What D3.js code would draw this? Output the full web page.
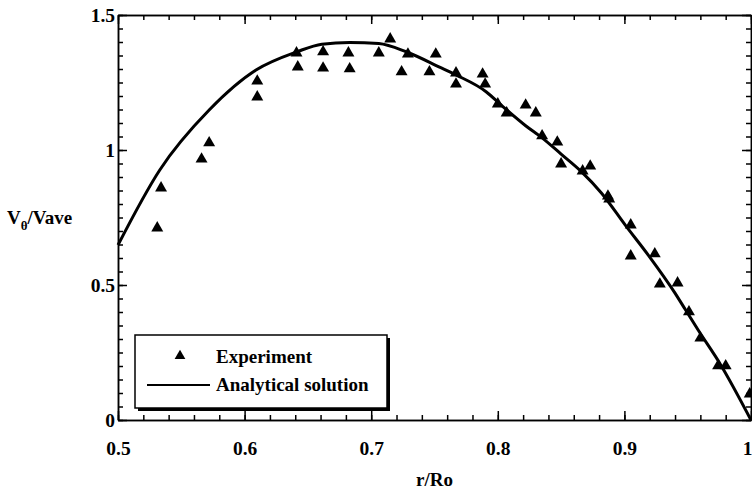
<!DOCTYPE html>
<html>
<head>
<meta charset="utf-8">
<script src="https://cdn.jsdelivr.net/npm/d3@7"></script>
<style>
  body { margin: 0; background: #fff; }
  svg text { font-family: "Liberation Serif", "Times New Roman", serif; font-weight: bold; fill: #000; }
  .axis path, .axis line { stroke: #000; stroke-width: 1.5; }
</style>
</head>
<body>
<script>
// analytical solution
var curveR = [0.5, 0.533, 0.572, 0.609, 0.641, 0.661, 0.683, 0.706, 0.728, 0.754, 0.767, 0.791, 0.803, 0.822, 0.835, 0.850, 0.866, 0.882, 0.901, 0.919, 0.940, 0.948, 0.958, 0.976, 1.0];
var curveV = [0.648, 0.926, 1.148, 1.296, 1.363, 1.392, 1.398, 1.394, 1.363, 1.307, 1.278, 1.215, 1.165, 1.090, 1.045, 0.985, 0.920, 0.840, 0.720, 0.610, 0.470, 0.410, 0.335, 0.205, 0];

// experiment points
var expR = [0.531, 0.534, 0.566, 0.572, 0.610, 0.610, 0.641, 0.642, 0.662, 0.662, 0.682, 0.683, 0.706, 0.715, 0.724, 0.729, 0.746, 0.751, 0.767, 0.767, 0.788, 0.790, 0.800, 0.807, 0.822, 0.830, 0.835, 0.847, 0.850, 0.867, 0.873, 0.887, 0.888, 0.905, 0.905, 0.924, 0.928, 0.942, 0.951, 0.960, 0.974, 0.980, 0.999];
var expV = [0.715, 0.863, 0.970, 1.030, 1.259, 1.200, 1.363, 1.311, 1.367, 1.307, 1.363, 1.304, 1.363, 1.415, 1.293, 1.359, 1.293, 1.359, 1.289, 1.248, 1.285, 1.248, 1.174, 1.141, 1.170, 1.141, 1.056, 1.033, 0.952, 0.926, 0.944, 0.833, 0.822, 0.726, 0.611, 0.619, 0.507, 0.511, 0.404, 0.307, 0.204, 0.204, 0.1];

var xMajor = [0.5, 0.6, 0.7, 0.8, 0.9, 1.0];
var xLabels = ["0.5", "0.6", "0.7", "0.8", "0.9", "1"];
var yMajor = [0, 0.5, 1, 1.5];
var yLabels = ["0", "0.5", "1", "1.5"];
var legendNames = ["Experiment", "Analytical solution"];

var width = 752, height = 490;
var svg = d3.select("body").append("svg").attr("width", width).attr("height", height);

var x = d3.scaleLinear().domain([0.5, 1]).range([118, 751]);
var y = d3.scaleLinear().domain([0, 1.5]).range([420, 15]);

var xMinor = d3.range(0.5, 1.001, 0.02).map(d => +d.toFixed(2));
var yMinor = d3.range(0, 1.501, 0.05).map(d => +d.toFixed(2));

// minor ticks, all four sides
svg.append("g").attr("class", "axis").attr("transform", "translate(0,420)")
  .call(d3.axisBottom(x).tickValues(xMinor).tickSize(-5).tickSizeOuter(0).tickFormat(""));
svg.append("g").attr("class", "axis").attr("transform", "translate(0,15)")
  .call(d3.axisTop(x).tickValues(xMinor).tickSize(-5).tickSizeOuter(0).tickFormat(""));
svg.append("g").attr("class", "axis").attr("transform", "translate(118,0)")
  .call(d3.axisLeft(y).tickValues(yMinor).tickSize(-5).tickSizeOuter(0).tickFormat(""));
svg.append("g").attr("class", "axis").attr("transform", "translate(751,0)")
  .call(d3.axisRight(y).tickValues(yMinor).tickSize(-5).tickSizeOuter(0).tickFormat(""));

// major ticks + labels
var xAxis = svg.append("g").attr("class", "axis").attr("transform", "translate(0,420)")
  .call(d3.axisBottom(x).tickValues(xMajor).tickSize(-9).tickSizeOuter(0).tickPadding(21)
    .tickFormat((d, i) => xLabels[i]));
xAxis.selectAll("text").style("font-size", "19.5px")
  .attr("text-anchor", d => d === 1 ? "end" : "middle")
  .attr("dx", d => d === 1 ? 1 : 0);
svg.append("g").attr("class", "axis").attr("transform", "translate(0,15)")
  .call(d3.axisTop(x).tickValues(xMajor).tickSize(-9).tickSizeOuter(0).tickFormat(""));

var yAxis = svg.append("g").attr("class", "axis").attr("transform", "translate(118,0)")
  .call(d3.axisLeft(y).tickValues(yMajor).tickSize(-9).tickSizeOuter(0).tickPadding(3)
    .tickFormat((d, i) => yLabels[i]));
yAxis.selectAll("text").style("font-size", "19.5px");
svg.append("g").attr("class", "axis").attr("transform", "translate(751,0)")
  .call(d3.axisRight(y).tickValues(yMajor).tickSize(-9).tickSizeOuter(0).tickFormat(""));

// analytical curve
var line = d3.line().x(d => x(d[0])).y(d => y(d[1])).curve(d3.curveMonotoneX);
svg.append("path")
  .datum(d3.zip(curveR, curveV))
  .attr("d", line)
  .attr("fill", "none")
  .attr("stroke", "#000")
  .attr("stroke-width", 3)
  .attr("stroke-linejoin", "round");

// experiment triangles
var tri = d3.symbol().type(d3.symbolTriangle).size(62);
svg.append("g").selectAll("path")
  .data(d3.zip(expR, expV))
  .enter().append("path")
  .attr("d", tri)
  .attr("transform", d => "translate(" + x(d[0]) + "," + (y(d[1]) + 1) + ")")
  .attr("fill", "#000");

// axis titles
svg.append("text").attr("x", x(0.75)).attr("y", 486).attr("text-anchor", "middle")
  .style("font-size", "19px").text("r/Ro");
var yt = svg.append("text").attr("x", 7).attr("y", 224).style("font-size", "19px");
yt.append("tspan").text("V");
yt.append("tspan").attr("dy", 6).style("font-size", "13px").text("θ");
yt.append("tspan").attr("dy", -6).text("/Vave");

// legend
var lg = svg.append("g");
lg.append("rect").attr("x", 138).attr("y", 338).attr("width", 252).attr("height", 73).attr("fill", "#000");
lg.append("rect").attr("x", 135).attr("y", 335).attr("width", 252).attr("height", 73)
  .attr("fill", "#fff").attr("stroke", "#000").attr("stroke-width", 1.5);
lg.append("path").attr("d", d3.symbol().type(d3.symbolTriangle).size(50))
  .attr("transform", "translate(180,356)").attr("fill", "#000");
lg.append("line").attr("x1", 147).attr("x2", 210).attr("y1", 385).attr("y2", 385)
  .attr("stroke", "#000").attr("stroke-width", 2);
lg.selectAll("text.lab").data(legendNames).enter().append("text")
  .attr("class", "lab")
  .attr("x", 216).attr("y", (d, i) => 363 + i * 28)
  .style("font-size", "19px").text(d => d);
</script>
</body>
</html>
